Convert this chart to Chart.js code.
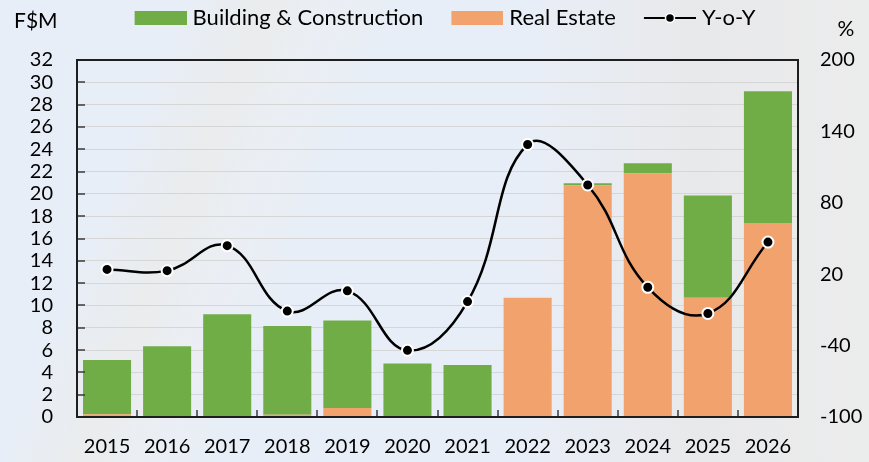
<!DOCTYPE html>
<html>
<head>
<meta charset="utf-8">
<title>Building & Construction and Real Estate</title>
<script src="https://cdn.jsdelivr.net/npm/chart.js@4.4.1/dist/chart.umd.min.js"></script>
<style>
  html, body { margin: 0; padding: 0; }
  body {
    width: 869px; height: 462px; overflow: hidden;
    background:
      linear-gradient(112deg, rgba(255,255,255,0) 18%, rgba(236,234,228,0.55) 25%, rgba(240,240,238,0.35) 31%, rgba(255,255,255,0) 38%),
      linear-gradient(90deg, rgba(232,238,246,0) 62%, rgba(232,232,232,0.85) 80%, rgba(236,236,236,0.95) 100%),
      #E8EEF7;
  }
  #wrap { position: relative; width: 869px; height: 462px; }
  canvas { display: block; }
</style>
</head>
<body>
<div id="wrap"><canvas id="chart" width="869" height="462"></canvas></div>
<script>
// Fiji: Building & Construction and Real Estate, F$M, with year-on-year growth
const years = ['2015', '2016', '2017', '2018', '2019', '2020', '2021', '2022', '2023', '2024', '2025', '2026'];
const buildingConstruction = [4.85, 6.35, 9.1, 7.95, 7.85, 4.8, 4.65, 0, 0.2, 0.9, 9.15, 11.8];
const realEstate = [0.25, 0, 0.1, 0.2, 0.8, 0, 0, 10.7, 20.75, 21.85, 10.7, 17.4];
const yoyGrowth = [24, 23, 44, -11, 6, -44, -3, 129, 95, 9, -13, 47];

const leftAxis = { min: 0, max: 32, step: 2, unit: 'F$M' };
const rightAxis = { min: -100, max: 200, step: 60, unit: '%' };

const GREEN = '#70AD47';
const ORANGE = '#F2A36D';
const FONT = 'Lato, "Open Sans", "Noto Sans", sans-serif';

Chart.defaults.font.family = FONT;
Chart.defaults.font.size = 20;
Chart.defaults.color = '#000';

// legend swatches drawn as small canvases (box or line-with-marker);
// the swatch sits at the right edge so the label follows it closely
const ICON_W = 78;
function swatch(color) {
  const c = document.createElement('canvas');
  c.width = ICON_W; c.height = 14;
  const g = c.getContext('2d');
  g.fillStyle = color;
  g.fillRect(ICON_W - 52, 0, 52, 14);
  return c;
}
function lineSwatch() {
  const c = document.createElement('canvas');
  c.width = ICON_W; c.height = 14;
  const g = c.getContext('2d');
  g.strokeStyle = '#000';
  g.lineWidth = 2;
  g.beginPath(); g.moveTo(ICON_W - 52, 7); g.lineTo(ICON_W, 7); g.stroke();
  g.beginPath(); g.arc(ICON_W - 26, 7, 4.5, 0, Math.PI * 2);
  g.fillStyle = '#000'; g.fill();
  g.strokeStyle = '#fff'; g.lineWidth = 1.5; g.stroke();
  return c;
}
const legendIcons = [swatch(GREEN), swatch(ORANGE), lineSwatch()];

// plot frame, inner tick marks and unit captions
const frame = {
  id: 'frame',
  afterDatasetsDraw(chart) {
    const { ctx, chartArea: a, scales } = chart;
    ctx.save();
    // tick marks on the left axis, pointing into the plot
    ctx.strokeStyle = '#3a3a3a';
    ctx.lineWidth = 1.5;
    scales.y.ticks.forEach(t => {
      const y = Math.round(scales.y.getPixelForValue(t.value));
      ctx.beginPath(); ctx.moveTo(a.left, y); ctx.lineTo(a.left + 8, y); ctx.stroke();
    });
    // category separators on the bottom axis
    for (let i = 0; i < years.length - 1; i++) {
      const x = Math.round((scales.x.getPixelForValue(i) + scales.x.getPixelForValue(i + 1)) / 2);
      ctx.beginPath(); ctx.moveTo(x, a.bottom); ctx.lineTo(x, a.bottom - 7); ctx.stroke();
    }
    // box around the plot area
    ctx.strokeStyle = '#1e1e1e';
    ctx.lineWidth = 2;
    ctx.strokeRect(a.left, a.top, a.right - a.left, a.bottom - a.top);
    ctx.restore();
  },
  afterDraw(chart) {
    const { ctx } = chart;
    ctx.save();
    ctx.fillStyle = '#000';
    ctx.font = '21px ' + FONT;
    ctx.textBaseline = 'middle';
    ctx.textAlign = 'left';
    ctx.fillText(leftAxis.unit, 14, 21);
    ctx.textAlign = 'center';
    ctx.fillText(rightAxis.unit, 846, 29);
    ctx.restore();
  }
};

new Chart(document.getElementById('chart'), {
  data: {
    labels: years,
    datasets: [
      {
        type: 'bar',
        label: 'Building & Construction',
        data: buildingConstruction,
        backgroundColor: GREEN,
        order: 2,
        yAxisID: 'y',
        barPercentage: 0.8,
        categoryPercentage: 1.0
      },
      {
        type: 'bar',
        label: 'Real Estate',
        data: realEstate,
        backgroundColor: ORANGE,
        order: 1,
        yAxisID: 'y',
        barPercentage: 0.8,
        categoryPercentage: 1.0
      },
      {
        type: 'line',
        label: 'Y-o-Y',
        data: yoyGrowth,
        yAxisID: 'y1',
        order: 0,
        borderColor: '#000',
        borderWidth: 2.5,
        tension: 0.42,
        pointRadius: 5.5,
        pointBackgroundColor: '#000',
        pointBorderColor: '#fff',
        pointBorderWidth: 2,
        clip: false
      }
    ]
  },
  options: {
    responsive: false,
    animation: false,
    devicePixelRatio: 1,
    layout: { padding: 0 },
    plugins: {
      tooltip: { enabled: false },
      legend: {
        position: 'top',
        weight: 3000,
        labels: {
          usePointStyle: true,
          pointStyleWidth: ICON_W - 10,
          boxHeight: 14,
          padding: 7,
          color: '#000',
          font: { size: 22, family: FONT },
          generateLabels(chart) {
            const base = Chart.defaults.plugins.legend.labels.generateLabels(chart);
            base.sort((a, b) => a.datasetIndex - b.datasetIndex);
            return base.map(item => Object.assign(item, { pointStyle: legendIcons[item.datasetIndex], rotation: 0 }));
          }
        }
      },
      // blank title used only to open space between legend and plot
      title: {
        display: true,
        text: ' ',
        weight: 2000,
        font: { size: 10 },
        padding: { top: 4, bottom: 5 }
      }
    },
    scales: {
      x: {
        stacked: true,
        grid: { display: false, drawTicks: false },
        border: { display: false },
        ticks: { padding: 18, color: '#000', font: { size: 20 } },
        afterFit(s) { s.height = 45; }
      },
      y: {
        stacked: true,
        position: 'left',
        min: leftAxis.min,
        max: leftAxis.max,
        grid: { color: '#D6D6D6', lineWidth: 1, drawTicks: false },
        border: { display: false },
        ticks: { stepSize: leftAxis.step, autoSkip: false, padding: 24, color: '#000', font: { size: 20 } },
        afterFit(s) { s.width = 77; }
      },
      y1: {
        position: 'right',
        min: rightAxis.min,
        max: rightAxis.max,
        grid: { display: false, drawTicks: false },
        border: { display: false },
        ticks: { stepSize: rightAxis.step, autoSkip: false, padding: 22, color: '#000', font: { size: 20 } },
        afterFit(s) { s.width = 71; }
      }
    }
  },
  plugins: [frame]
});
</script>
</body>
</html>
